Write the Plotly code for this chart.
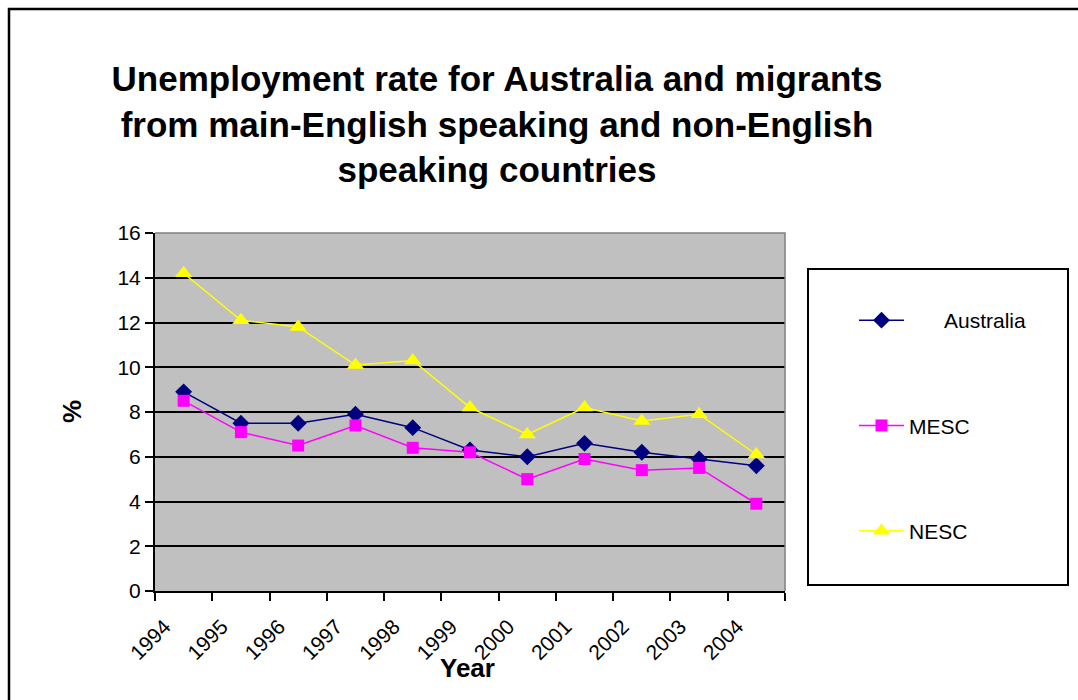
import plotly.graph_objects as go

years = ["1994", "1995", "1996", "1997", "1998", "1999", "2000", "2001", "2002", "2003", "2004"]
australia = [8.9, 7.5, 7.5, 7.9, 7.3, 6.3, 6.0, 6.6, 6.2, 5.9, 5.6]
mesc = [8.5, 7.1, 6.5, 7.4, 6.4, 6.2, 5.0, 5.9, 5.4, 5.5, 3.9]
nesc = [14.2, 12.1, 11.8, 10.1, 10.3, 8.2, 7.0, 8.2, 7.6, 7.9, 6.1]
y_ticks = [0, 2, 4, 6, 8, 10, 12, 14, 16]

W, H = 1078, 700
L, R, T, B = 155, 785, 233, 591


def px(x):
    return (x - L) / (R - L)


def py(y):
    return (B - y) / (B - T)


FONT = "Arial, Liberation Sans, sans-serif"

fig = go.Figure()
fig.add_trace(go.Scatter(x=years, y=australia, name="\u00a0" * 6 + "Australia",
                         mode="lines+markers", legendgroup="a",
                         line=dict(color="#000080", width=1.5),
                         marker=dict(symbol="diamond", size=13, color="#000080")))
fig.add_trace(go.Scatter(x=years, y=mesc, name="MESC", mode="lines+markers", legendgroup="b",
                         line=dict(color="#FF00FF", width=1.5),
                         marker=dict(symbol="square", size=12, color="#FF00FF")))
fig.add_trace(go.Scatter(x=years, y=nesc, name="NESC", mode="lines+markers", legendgroup="c",
                         line=dict(color="#FFFF00", width=1.5),
                         marker=dict(symbol="triangle-up", size=15, color="#FFFF00")))

fig.update_layout(
    width=W, height=H,
    margin=dict(l=L, r=W - R, t=T, b=H - B),
    paper_bgcolor="white", plot_bgcolor="#C0C0C0",
    font=dict(family=FONT, color="black", size=21),
    title=dict(text="<b>Unemployment rate for Australia and migrants<br>from main-English speaking and non-English<br>speaking countries</b>",
               x=497 / W, xanchor="center", y=1 - 91 / H, yanchor="middle",
               font=dict(family=FONT, size=35, color="black")),
    showlegend=True,
    legend=dict(x=px(854), y=py(300), xanchor="left", yanchor="top",
                bgcolor="rgba(0,0,0,0)", borderwidth=0, itemwidth=45,
                font=dict(family=FONT, size=21, color="black"),
                tracegroupgap=75, traceorder="grouped"),
    xaxis=dict(type="category", tickson="boundaries", range=[-0.5, 10.5], autorange=False,
               showgrid=False, zeroline=False,
               showline=True, linecolor="black", linewidth=2,
               ticks="outside", ticklen=8, tickcolor="black", tickwidth=1.5,
               tickangle=-45, ticklabelshift=-19, ticklabelstandoff=13,
               tickfont=dict(family=FONT, size=21)),
    yaxis=dict(range=[0, 16], tickvals=y_ticks, showgrid=True, gridcolor="black", gridwidth=2,
               zeroline=False, showline=True, linecolor="black", linewidth=2,
               ticks="outside", ticklen=8, tickcolor="black", tickwidth=1.5,
               tickfont=dict(family=FONT, size=21)),
    shapes=[
        dict(type="path", xref="paper", yref="paper",
             path="M 0,1 L 1,1 L 1,0", line=dict(color="#808080", width=1.5), layer="above"),
        dict(type="rect", xref="paper", yref="paper",
             x0=px(808), x1=px(1068), y0=py(585), y1=py(269),
             line=dict(color="black", width=2), fillcolor="rgba(0,0,0,0)"),
        dict(type="rect", xref="paper", yref="paper",
             x0=px(9), x1=px(1090), y0=py(712), y1=py(9),
             line=dict(color="black", width=2.5), fillcolor="rgba(0,0,0,0)"),
    ],
    annotations=[
        dict(text="<b>Year</b>", xref="paper", yref="paper", x=px(467), y=py(668),
             xanchor="center", yanchor="middle", showarrow=False,
             font=dict(family=FONT, size=26, color="black")),
        dict(text="<b>%</b>", xref="paper", yref="paper", x=px(72), y=py(412),
             xanchor="center", yanchor="middle", showarrow=False, textangle=-90,
             font=dict(family=FONT, size=26, color="black")),
    ],
)

fig.write_html("out.html")
